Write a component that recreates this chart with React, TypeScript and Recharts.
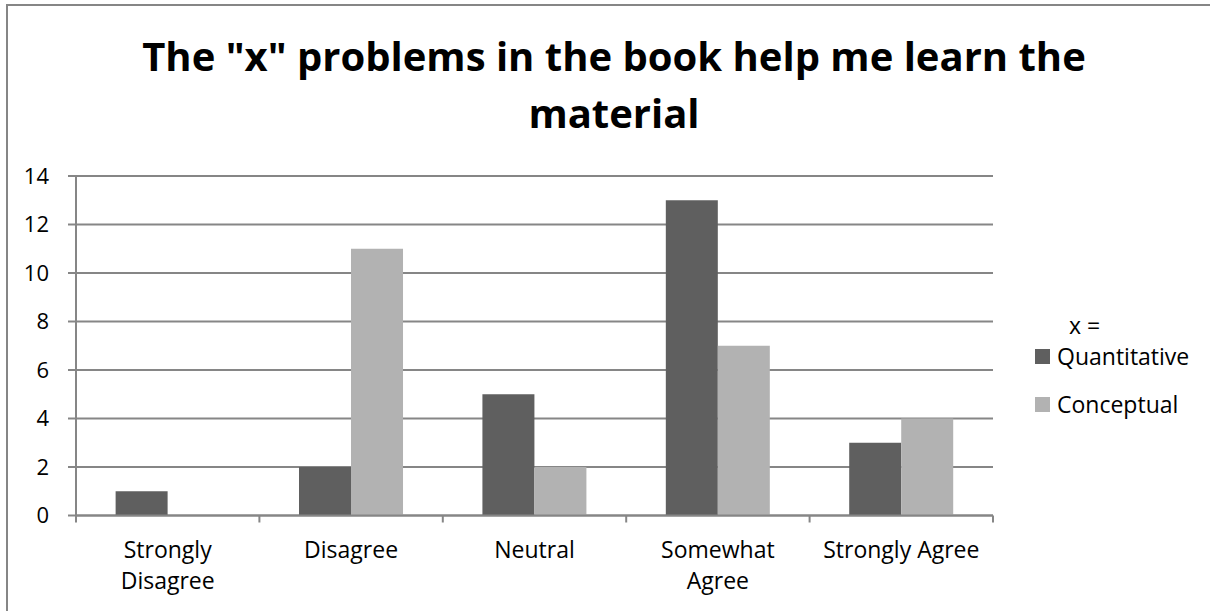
import React from 'react';
import { BarChart, Bar, XAxis, YAxis, CartesianGrid } from 'recharts';

const CATEGORIES = ['Strongly Disagree', 'Disagree', 'Neutral', 'Somewhat Agree', 'Strongly Agree'];
const TICK_LINES = [['Strongly', 'Disagree'], ['Disagree'], ['Neutral'], ['Somewhat', 'Agree'], ['Strongly Agree']];
const QUANTITATIVE = [1, 2, 5, 13, 3];
const CONCEPTUAL = [0, 11, 2, 7, 4];
const Y_TICKS = [0, 2, 4, 6, 8, 10, 12, 14];

const data = CATEGORIES.map((c, i) => ({
  category: c,
  Quantitative: QUANTITATIVE[i],
  Conceptual: CONCEPTUAL[i],
}));

const W = 1210;
const H = 611;
const M = { top: 176, right: 217, left: 0, bottom: 35.5 };
const Y_W = 76;
const X_H = 60;
const BAND = (W - M.right - Y_W) / CATEGORIES.length;

const FONT = '"Open Sans", sans-serif';
const GRID = '#868686';
const DARK = '#5f5f5f';
const LIGHT = '#b2b2b2';

const CategoryTick = ({ x, y, index, payload }: any) => {
  const lines = TICK_LINES[index] ?? [payload.value];
  const last = index === CATEGORIES.length - 1;
  return (
    <g>
      <line x1={x - BAND / 2} x2={x - BAND / 2} y1={y} y2={y + 7} stroke={GRID} strokeWidth={2} />
      {last && <line x1={x + BAND / 2} x2={x + BAND / 2} y1={y} y2={y + 7} stroke={GRID} strokeWidth={2} />}
      {lines.map((l: string, i: number) => (
        <text key={i} x={x} y={y + 42 + i * 31} textAnchor="middle" fill="#000" fontSize={23} fontFamily={FONT}>
          {l}
        </text>
      ))}
    </g>
  );
};

const LegendBox = () => (
  <div
    style={{
      position: 'absolute',
      left: 1035,
      top: 313,
      fontFamily: FONT,
      fontSize: 23,
      color: '#000',
      lineHeight: '24px',
      whiteSpace: 'nowrap',
    }}
  >
    <div style={{ paddingLeft: 34, height: 24 }}>x =</div>
    {[
      { name: 'Quantitative', color: DARK },
      { name: 'Conceptual', color: LIGHT },
    ].map((it, i) => (
      <div key={it.name} style={{ display: 'flex', alignItems: 'center', marginTop: i === 0 ? 7 : 24, height: 24 }}>
        <span style={{ width: 15, height: 15, background: it.color, display: 'inline-block', marginRight: 7 }} />
        {it.name}
      </div>
    ))}
  </div>
);

export default function App() {
  return (
    <div style={{ position: 'fixed', left: 0, top: 0, width: W, height: H, background: '#fff', overflow: 'hidden' }}>
      <div
        style={{
          position: 'absolute',
          left: 6,
          top: 4,
          width: W,
          height: H,
          borderLeft: `2px solid ${GRID}`,
          borderTop: `2px solid ${GRID}`,
        }}
      />
      <div
        style={{
          position: 'absolute',
          left: 614 - 495,
          top: 27,
          width: 990,
          textAlign: 'center',
          fontFamily: FONT,
          fontWeight: 700,
          fontSize: 40,
          lineHeight: '57px',
          color: '#000',
        }}
      >
        The "x" problems in the book help me learn the material
      </div>
      <div style={{ position: 'absolute', left: 0, top: 0 }}>
        <BarChart width={W} height={H} data={data} margin={M} barCategoryGap="21.6%" barGap={0}>
          <CartesianGrid horizontal vertical={false} stroke={GRID} strokeWidth={2} />
          <XAxis
            dataKey="category"
            height={X_H}
            axisLine={{ stroke: GRID, strokeWidth: 2 }}
            tickLine={false}
            tickSize={0}
            tickMargin={0}
            interval={0}
            tick={<CategoryTick />}
          />
          <YAxis
            width={Y_W}
            domain={[0, 14]}
            ticks={Y_TICKS}
            interval={0}
            axisLine={{ stroke: GRID, strokeWidth: 2 }}
            tickLine={{ stroke: GRID, strokeWidth: 2 }}
            tickSize={8}
            tickMargin={19}
            tick={{ fill: '#000', fontSize: 22, fontFamily: FONT }}
          />
          <Bar dataKey="Quantitative" fill={DARK} isAnimationActive={false} />
          <Bar dataKey="Conceptual" fill={LIGHT} isAnimationActive={false} />
        </BarChart>
      </div>
      <LegendBox />
    </div>
  );
}
